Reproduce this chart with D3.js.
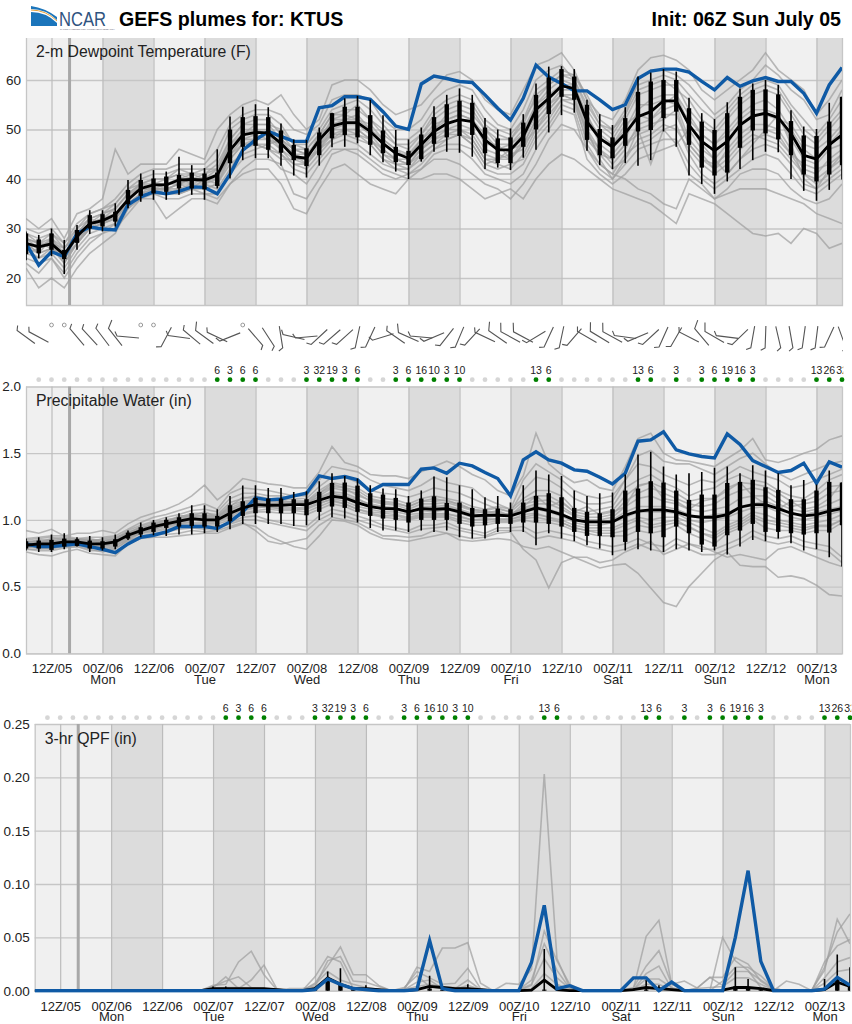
<!DOCTYPE html>
<html>
<head>
<meta charset="utf-8">
<script src="https://cdn.jsdelivr.net/npm/d3@7"></script>
<style>
    html, body { margin: 0; padding: 0; background: #fff; }
    svg { display: block; font-family: "Liberation Sans", Arial, sans-serif; }
    .tick text { fill: #222; }
</style>
</head>
<body>
<svg id="chart" width="852" height="1024"></svg>
<script>
const hourLabels = ["12Z/05","00Z/06","12Z/06","00Z/07","12Z/07","00Z/08","12Z/08","00Z/09","12Z/09","00Z/10","12Z/10","00Z/11","12Z/11","00Z/12","12Z/12","00Z/13"];
const dayLabels = ["","Mon","","Tue","","Wed","","Thu","","Fri","","Sat","","Sun","","Mon"];
const tickHours = [6,18,30,42,54,66,78,90,102,114,126,138,150,162,174,186];
const stepHours = 3;
const nowHour = 10.25;

// percent chance of measurable precip at each 3-hr step, 0 = grey dot
const precipChance = [0,0,0,0,0,0,0,0,0,0,0,0,0,0,0,6,3,6,6,0,0,0,3,32,19,3,6,0,0,3,6,16,10,3,10,0,0,0,0,0,13,6,0,0,0,0,0,0,13,6,0,3,0,3,6,19,16,3,0,0,0,0,13,26,32];

// null = calm
const barbDir = [306,298,null,null,320,317,323,322,275,null,null,208,278,310,306,295,248,null,139,147,171,283,265,227,229,228,192,205,253,305,294,275,247,218,203,223,295,305,299,298,239,205,192,221,300,301,299,278,247,227,204,210,297,320,300,277,226,190,182,167,170,188,187,205,160];
const barbSpeed = [5,5,0,0,5,5,5,10,5,0,0,5,5,5,10,5,5,0,5,5,5,5,5,5,5,5,5,5,5,5,10,5,5,5,5,5,5,10,10,10,5,5,5,5,5,10,10,5,5,5,5,5,5,10,10,5,5,5,5,5,5,5,5,5,5];

const dewTicks = [20,30,40,50,60];
const dewControl = [
    27,22.6,25.3,24.3,29,30.3,29.9,29.7,34.8,36.4,37.4,37,37.5,
    38.4,38.3,37,41,45.8,47.9,49.6,48.6,47.6,47.6,54.4,54.8,56.6,
    56.6,56.1,53.6,50.7,50,59.2,60.8,60.3,59.7,59.5,57,54.3,51.9,
    56.3,63,60.6,59.3,57.8,57.8,56,54,55,60.3,61.8,62.2,62.2,
    61.6,59.7,58,60.5,58.7,59.8,60.5,59.7,59.7,57.3,53.3,59,62.5];
const dewMean = [
    27,26.3,26.9,24.7,28.4,31,31.6,32.8,35.8,38.1,38.8,38.8,39.8,
    39.9,39.8,40.8,45.8,48.9,49.4,49.3,47.2,44.5,44.2,47.9,50.7,51.4,
    51.4,49.6,47.2,45.2,44.2,46.9,49.6,51.2,52,51.6,47.9,45.9,45.9,
    48.6,54,56.3,58.8,58.3,51.6,48.2,46.5,49.2,52.6,53.6,55.8,55.8,
    50.9,47.6,45.7,47.6,50.9,52.7,53.3,52.4,49.2,44.8,44,46.9,48.9];
const dewMax = [
    29.4,28.7,30,27.7,30.7,33.7,33.7,35.1,39.8,41.1,41.8,41.5,44.5,
    42.8,42.2,46,52.6,54.6,55.1,54.5,51.2,48,47.9,50.4,53.4,56.3,
    56.8,56,52.9,49.9,48,50.4,54.7,57,58.3,57,52.3,50,50.2,
    53.1,59.3,62.7,62.8,62.2,56,53.1,50.9,54.5,60.7,61.5,62.2,61.7,
    56.4,53.3,52.1,55.5,58.3,59.3,60,59,53.9,50.6,50.1,55.4,56.6];
const dewQ3 = [
    29,27.8,29,25.7,29.7,32.7,32.9,33.4,37.8,39.8,40.1,40.5,40.8,
    41.3,41.1,41.3,50,52.5,52.7,52.5,49.8,46.9,46.2,49.4,53.3,54.6,
    54.6,52.9,49.8,46.5,45.7,49,52.5,55.1,55.8,55.4,50.4,48.2,48.4,
    51.4,57,60.5,62.2,60.7,55,50.1,48.4,52.3,57.6,59.7,60,60,
    54.3,51.6,49.9,53.3,56.6,58,58.1,57.1,51.7,48.8,48.7,51.6,56.6];
const dewQ1 = [
    24.8,25,25.7,23.8,27.1,30,30.4,31.4,34.9,36.6,37.1,37.4,38.1,
    38.1,37.9,38.6,43.2,46.5,46.7,45.9,45.3,43.8,42.6,44.8,48.2,48.9,
    48.4,46.9,45.2,43.4,42.8,44,47.1,48.4,48.7,48.9,45.2,43.2,43.2,
    46.5,50,53.1,56.6,56,47.9,44.8,44.2,46.7,49.6,49.9,52.3,53.6,
    46.9,42.3,40.7,41.3,46.3,49.8,49.2,48,44.8,40.9,39.5,40.9,42.8];
const dewMin = [
    23.6,24,24.4,20.8,25.7,28.9,29.4,30.4,34.1,35.4,35.8,35.8,36.8,
    36.8,35.8,38.1,40.1,43.8,44.2,44.2,42.7,40.7,40.3,42.7,46.4,46.5,
    47.2,44.8,43.4,41.5,40,43.5,45.5,45.5,45.3,44.5,42,42.3,41.8,
    44.3,45.9,49.4,52.9,53.4,45.7,42.8,42,43.2,42.7,43.8,49.6,46.5,
    40.7,39,37,39.5,42,43.8,45.5,45.4,40,37.6,35.6,37.8,39.9];
const dewMembers = [
    [32,30,32,28,33,34,36,46,41,43,43,43,46,
     45,44,50,53,55,56,55,57,53,50,52,59,60,
     60,58,55,53,54,55,58,61,61.7,60,56,54,53,
     58,63,64,65.5,62,56,53,52,56,62,64.5,65,64,
     62,58,56,58,60,62,65.5,62,60,58,53,56,60],
    [22,18,20,18,22,25,27,29,34,36,36,32,34,
     36,36,35,39,41,42,42,39,34,33,38,42,43,
     41,39,38,37,40,40,41,41,40,38,36,37,38,
     36,40,43,45,44,42,40,38,37,36,35,33,31,
     37,36,35,33,31,29,28.5,29,27,30,29,26,27],
    [23,21,24,20,24,27,29,31,35,37,37,36,36,
     37,37,36,39,42,44,44,43,37,36,40,45,46,
     45,43,41,40,41,42,44,44,43,41,39,38,36,
     39,43,48,51,50,46,43,41,40,38,37,35,34,
     40,38,36,37,38,38,38,37,36,35,33,32,31],
    [30,29,30,27,31,33,34,36,39,41,42,42,43,
     43,43,46,51,53,54,54,53,50,49,51,56,57,
     57,56,52,50,50,52,56,58,59,58,54,51,50,
     54,60,62,63,60,55,51,50,53,60,62,62,61,
     59,56,53,55,58,60,63,61,58,56,52,53,58],
    [26,24,26,23,27,30,31,32,35,37,38,38,38,
     38,38,39,43,45,46,47,45,43,42,45,48,49,
     49,47,44,42,42,45,47,48,49,48,44,43,42,
     45,50,53,56,55,48,45,42,44,48,49,51,50,
     46,43,41,43,46,48,49,48,45,41,40,42,45],
    [28,27,28,26,29,32,33,34,37,39,40,40,41,
     41,41,43,48,51,52,52,49,46,46,49,53,54,
     54,52,49,47,46,49,52,54,55,54,50,48,48,
     51,57,59,61,60,54,50,48,52,57,58,59,59,
     54,51,49,52,55,57,58,57,53,49,47,50,53],
    [25,24,25,22,26,29,30,31,34,37,37,37,37,
     38,39,38,42,46,47,46,45,42,41,44,47,48,
     47,45,43,42,41,43,46,47,47,46,42,41,41,
     43,48,51,55,54,46,42,40,43,46,47,48,48,
     43,40,38,40,42,44,45,44,41,38,37,39,41],
    [27,26,27,24,28,31,32,33,36,38,39,39,39,
     39,40,40,45,48,49,48,46,44,44,46,50,51,
     51,49,46,44,43,46,49,50,51,50,46,45,44,
     47,52,55,58,58,50,46,43,46,51,52,54,55,
     48,45,42,46,49,51,51,50,46,42,41,44,46],
    [29,28,29,27,30,33,34,35,38,40,41,41,42,
     42,42,44,50,52,53,53,51,47,47,50,54,55,
     56,54,51,48,48,50,54,56,57,56,52,50,49,
     52,58,60,62,61,57,52,50,54,59,60,61,60,
     57,54,52,54,57,59,60,59,55,52,49,52,56],
    [24,23,24,21,25,28,29,30,33,36,37,38,37,
     38,37,37,41,44,45,45,42,41,39,43,46,46,
     46,44,42,41,40,42,45,46,46,44,41,40,39,
     41,46,50,54,53,44,41,39,41,44,45,46,47,
     41,39,36,38,41,42,42,41,38,36,35,36,39],
    [26,25,26,24,27,30,31,33,36,38,38,38,39,
     40,40,41,44,47,47,47,48,46,45,47,49,50,
     50,48,45,44,44,46,48,49,49,47,43,44,46,
     47,50,54,57,56,50,44,40,44,50,43,50,47,
     50,46,44,41,44,47,50,53,47,40,38,42,44],
    [28,27,27,26,29,31,33,34,37,39,39,40,41,
     40,41,42,47,50,50,50,48,45,45,48,52,52,
     53,50,48,46,45,48,51,52,53,52,47,47,47,
     50,55,58,60,59,53,47,45,48,54,56,57,57,
     53,49,47,50,53,55,56,54,50,46,44,47,50],
    [27,25,28,25,29,31,32,34,37,38,39,39,40,
     41,40,42,46,49,50,49,47,45,44,49,51,52,
     52,50,47,45,45,47,50,52,53,52,49,46,47,
     49,55,57,59,58,53,48,47,50,55,55,56,55,
     52,49,47,49,52,54,54,53,48,44,43,46,47],
    [26,27,26,25,28,30,32,32,36,39,38,39,40,
     39,39,40,46,48,48,49,46,43,43,47,50,50,
     50,48,46,44,43,46,48,50,50,49,45,44,45,
     46,51,54,57,57,49,45,44,47,49,50,53,53,
     47,44,43,45,48,50,50,49,45,43,42,43,45],
    [28,26,28,24,29,32,31,33,35,37,39,38,39,
     40,39,41,47,49,51,51,48,46,45,47,52,53,
     52,51,48,46,44,48,50,53,54,53,50,47,44,
     48,53,56,59,59,52,49,47,51,53,52,55,57,
     51,47,44,47,51,53,53,52,51,47,46,48,51],
    [25,26,27,23,27,31,31,32,36,38,38,37,38,
     39,38,39,44,47,48,48,47,45,43,46,49,49,
     48,47,44,43,42,44,46,48,49,47,43,42,43,
     44,49,52,56,56,47,43,41,45,47,48,50,51,
     45,41,39,41,44,46,47,46,43,39,38,40,42],
    [29,27,29,26,30,32,33,35,38,39,40,40,42,
     41,42,42,48,51,51,51,50,47,46,49,53,53,
     55,52,50,47,47,49,53,55,56,55,51,49,48,
     52,56,59,61,61,56,51,49,53,58,59,60,58,
     56,52,50,53,56,58,59,58,54,50,48,51,54],
    [27,25,26,24,27,30,31,32,35,37,38,38,39,
     38,40,39,45,47,47,46,44,44,43,46,48,50,
     49,48,45,43,43,45,47,49,50,48,44,44,44,
     47,52,55,57,56,49,46,44,47,50,51,52,54,
     47,44,42,44,47,49,48,47,44,41,39,41,43]
];

const pwTicks = [0,0.5,1,1.5,2];
const pwControl = [
    .82,.80,.80,.81,.82,.80,.78,.755,.82,.87,.885,.91,.95,
    .95,.95,.935,.985,1.06,1.165,1.15,1.157,1.18,1.2,1.33,1.31,1.325,
    1.30,1.215,1.265,1.265,1.265,1.38,1.39,1.35,1.425,1.405,1.355,1.31,1.18,
    1.45,1.51,1.45,1.425,1.375,1.365,1.32,1.27,1.35,1.59,1.6,1.66,1.525,
    1.495,1.475,1.465,1.645,1.565,1.445,1.40,1.355,1.37,1.425,1.275,1.435,1.395];
const pwMean = [
    .81,.82,.82,.835,.835,.82,.82,.835,.885,.92,.95,.97,.99,
    1.01,1.0,1.0,1.05,1.09,1.115,1.11,1.11,1.115,1.115,1.147,1.177,1.165,
    1.13,1.10,1.085,1.085,1.06,1.085,1.08,1.085,1.06,1.03,1.035,1.035,1.03,
    1.06,1.09,1.07,1.04,1.0,.985,.985,.985,1.035,1.065,1.075,1.075,1.06,
    1.03,1.02,1.02,1.04,1.095,1.115,1.115,1.085,1.05,1.03,1.04,1.065,1.085];
const pwMax = [
    .86,.87,.89,.9,.87,.88,.87,.89,.92,.98,1.0,1.02,1.05,
    1.11,1.11,1.08,1.18,1.257,1.26,1.24,1.24,1.21,1.215,1.29,1.35,1.33,
    1.31,1.26,1.235,1.23,1.18,1.22,1.325,1.32,1.26,1.23,1.17,1.18,1.13,
    1.26,1.37,1.34,1.33,1.22,1.18,1.20,1.205,1.34,1.49,1.51,1.40,1.34,
    1.35,1.36,1.39,1.40,1.35,1.41,1.37,1.35,1.26,1.30,1.265,1.37,1.28];
const pwQ3 = [
    .84,.845,.85,.86,.855,.845,.84,.855,.905,.945,.98,1.0,1.02,
    1.05,1.05,1.03,1.11,1.14,1.165,1.16,1.16,1.155,1.155,1.21,1.277,1.28,
    1.257,1.20,1.19,1.165,1.13,1.16,1.177,1.127,1.13,1.09,1.08,1.085,1.08,
    1.13,1.18,1.2,1.17,1.09,1.06,1.05,1.08,1.22,1.235,1.29,1.28,1.22,
    1.15,1.19,1.19,1.277,1.285,1.30,1.245,1.225,1.155,1.155,1.22,1.285,1.28];
const pwQ1 = [
    .785,.785,.775,.80,.805,.785,.785,.80,.86,.89,.91,.94,.95,
    .955,.95,.95,.99,1.03,1.05,1.05,1.05,1.05,1.035,1.06,1.10,1.09,
    1.06,1.03,1.01,1.0,.98,1.0,1.0,1.0,.97,.95,.96,.97,.97,
    .98,.98,.97,.95,.91,.88,.88,.87,.835,.91,.90,.87,.95,
    .90,.815,.80,.885,.92,.97,.91,.91,.90,.89,.90,.905,.96];
const pwMin = [
    .77,.76,.76,.78,.80,.76,.77,.78,.85,.87,.885,.88,.89,
    .89,.90,.91,.93,.97,.97,.97,.97,.955,.96,1.0,1.02,1.01,
    .98,.94,.92,.92,.91,.92,.91,.92,.87,.86,.86,.91,.91,
    .91,.81,.90,.86,.84,.81,.785,.735,.77,.78,.77,.76,.78,
    .77,.76,.77,.74,.80,.85,.84,.86,.825,.77,.78,.72,.65];
const pwMembers = [
    [.92,.90,.93,.88,.90,.90,.92,.90,.97,1.02,1.05,1.08,1.12,
     1.18,1.26,1.15,1.22,1.31,1.29,1.27,1.26,1.24,1.24,1.36,1.55,1.43,
     1.40,1.34,1.33,1.33,1.31,1.36,1.40,1.44,1.40,1.34,1.30,1.22,1.18,
     1.33,1.65,1.42,1.34,1.28,1.30,1.24,1.22,1.40,1.61,1.65,1.50,1.45,
     1.44,1.42,1.40,1.46,1.52,1.61,1.45,1.43,1.46,1.50,1.53,1.60,1.63],
    [.76,.74,.73,.76,.78,.75,.74,.73,.82,.86,.87,.87,.88,
     .89,.90,.90,.94,.97,.95,.88,.84,.80,.78,.88,1.0,.99,
     .96,.90,.86,.85,.84,.86,.88,.90,.85,.84,.85,.86,.85,
     .80,.78,.80,.76,.72,.68,.64,.66,.67,.60,.49,.38,.35,
     .50,.60,.70,.76,.66,.65,.65,.57,.58,.56,.51,.44,.43],
    [.78,.77,.77,.79,.80,.78,.76,.78,.85,.87,.89,.89,.90,
     .92,.91,.92,.95,.98,.92,.84,.82,.84,.86,.96,1.02,1.0,
     .98,.93,.88,.88,.87,.88,.92,.90,.88,.86,.87,.90,.91,
     .78,.70,.49,.68,.72,.72,.68,.70,.76,.80,.84,.74,.78,
     .82,.80,.76,.72,.74,.72,.70,.78,.80,.76,.72,.68,.65],
    [.86,.87,.88,.88,.86,.87,.87,.88,.93,.98,1.02,1.04,1.07,
     1.10,1.12,1.08,1.20,1.24,1.23,1.22,1.20,1.18,1.18,1.30,1.40,1.38,
     1.36,1.30,1.26,1.24,1.22,1.26,1.32,1.28,1.26,1.24,1.16,1.12,1.08,
     1.30,1.42,1.36,1.30,1.22,1.18,1.16,1.18,1.30,1.48,1.52,1.44,1.42,
     1.42,1.38,1.34,1.40,1.46,1.50,1.42,1.35,1.30,1.34,1.38,1.42,1.44],
    [.83,.85,.85,.86,.86,.85,.85,.86,.90,.95,.98,1.00,1.02,
     1.05,1.05,1.04,1.13,1.16,1.18,1.16,1.16,1.15,1.14,1.22,1.28,1.26,
     1.24,1.18,1.16,1.15,1.12,1.16,1.18,1.16,1.14,1.10,1.08,1.10,1.08,
     1.16,1.22,1.22,1.18,1.08,1.06,1.08,1.10,1.24,1.30,1.34,1.28,1.24,
     1.18,1.22,1.24,1.30,1.34,1.30,1.28,1.22,1.18,1.16,1.22,1.30,1.34],
    [.80,.79,.78,.81,.81,.79,.78,.80,.86,.90,.92,.94,.96,
     .97,.97,.97,1.00,1.04,1.06,1.06,1.05,1.05,1.04,1.08,1.12,1.10,
     1.06,1.04,1.02,1.01,1.00,1.02,1.02,1.02,.98,.96,.96,.98,.98,
     1.00,.98,.98,.96,.92,.90,.88,.88,.88,.92,.90,.92,.96,
     .90,.86,.82,.90,.94,1.00,.94,.92,.92,.90,.92,.92,.98],
    [.82,.82,.83,.84,.84,.82,.82,.83,.88,.92,.95,.97,.99,
     1.01,1.00,1.00,1.06,1.10,1.12,1.12,1.12,1.12,1.10,1.16,1.20,1.18,
     1.15,1.12,1.10,1.09,1.06,1.09,1.08,1.10,1.07,1.04,1.03,1.04,1.05,
     1.08,1.10,1.08,1.05,1.00,.98,.98,1.00,1.06,1.10,1.10,1.10,1.08,
     1.04,1.02,1.04,1.05,1.10,1.12,1.14,1.10,1.05,1.04,1.06,1.08,1.10],
    [.80,.83,.84,.83,.83,.83,.80,.82,.87,.91,.94,.95,.97,
     .99,1.03,.99,1.03,1.07,1.09,1.10,1.08,1.08,1.08,1.12,1.16,1.14,
     1.10,1.08,1.06,1.06,1.04,1.05,1.04,1.05,1.02,1.00,1.00,1.01,1.00,
     1.04,1.05,1.02,1.00,.96,.94,.94,.94,.98,1.02,1.00,1.02,1.02,
     .98,.94,.90,.96,1.00,1.06,1.04,1.00,.98,.96,.98,1.00,1.04],
    [.84,.83,.86,.87,.85,.86,.84,.86,.92,.96,.99,1.02,1.04,
     1.07,1.08,1.06,1.16,1.20,1.20,1.18,1.18,1.16,1.16,1.25,1.32,1.32,
     1.28,1.22,1.20,1.19,1.17,1.20,1.24,1.22,1.20,1.16,1.12,1.08,1.06,
     1.22,1.32,1.30,1.24,1.16,1.12,1.12,1.14,1.30,1.42,1.40,1.34,1.30,
     1.26,1.30,1.28,1.34,1.40,1.36,1.33,1.30,1.24,1.26,1.30,1.34,1.38],
    [.79,.80,.80,.82,.82,.80,.79,.81,.85,.90,.91,.93,.94,
     .96,.96,.95,.98,1.02,1.03,1.00,.98,.96,.95,1.03,1.08,1.06,
     1.03,1.00,.96,.94,.92,.96,.96,.98,.94,.92,.90,.94,.94,
     .95,.90,.92,.90,.88,.84,.82,.80,.82,.86,.82,.80,.86,
     .82,.78,.78,.82,.86,.92,.88,.86,.88,.84,.82,.80,.72],
    [.82,.81,.81,.85,.83,.84,.83,.84,.89,.93,.97,.99,1.01,
     1.03,1.02,1.02,1.09,1.13,1.14,1.14,1.14,1.13,1.12,1.18,1.24,1.22,
     1.20,1.14,1.12,1.11,1.08,1.12,1.12,1.13,1.10,1.07,1.05,1.07,1.03,
     1.12,1.14,1.15,1.10,1.04,1.02,1.02,1.04,1.14,1.20,1.24,1.20,1.16,
     1.12,1.10,1.12,1.18,1.22,1.24,1.22,1.16,1.10,1.12,1.14,1.20,1.22],
    [.85,.86,.87,.85,.84,.83,.86,.87,.90,.94,.96,.98,1.03,
     1.03,1.06,1.02,1.10,1.17,1.16,1.15,1.13,1.14,1.12,1.20,1.27,1.24,
     1.22,1.16,1.14,1.13,1.10,1.14,1.16,1.14,1.12,1.08,1.06,1.06,1.02,
     1.10,1.18,1.10,1.14,1.06,1.10,1.04,1.06,1.10,1.26,1.28,1.16,1.14,
     1.08,1.14,1.16,1.22,1.28,1.18,1.12,1.08,1.14,1.08,1.10,1.16,1.28],
    [.83,.84,.83,.84,.85,.84,.83,.85,.89,.92,.96,.98,1.0,
     1.02,1.01,1.01,1.07,1.12,1.13,1.13,1.13,1.12,1.13,1.17,1.21,1.2,
     1.16,1.11,1.09,1.08,1.05,1.10,1.10,1.11,1.08,1.05,1.06,1.05,1.04,
     1.09,1.12,1.12,1.08,1.03,1.0,1.0,1.02,1.10,1.16,1.18,1.14,1.12,
     1.08,1.06,1.08,1.10,1.16,1.18,1.18,1.12,1.08,1.06,1.08,1.12,1.16],
    [.80,.81,.81,.82,.82,.81,.80,.83,.87,.91,.93,.96,.98,
     1.0,.99,.99,1.04,1.08,1.10,1.09,1.09,1.09,1.09,1.13,1.15,1.12,
     1.08,1.06,1.05,1.04,1.02,1.04,1.05,1.04,1.03,1.0,1.01,1.0,1.01,
     1.02,1.04,1.02,.98,.94,.92,.92,.92,.96,1.0,.96,.98,1.0,
     .94,.90,.88,.94,.98,1.04,1.0,.98,.96,.94,.96,.96,1.0],
    [.84,.84,.84,.85,.84,.84,.84,.85,.91,.94,.97,1.0,1.01,
     1.04,1.03,1.03,1.11,1.14,1.15,1.15,1.15,1.13,1.14,1.2,1.25,1.24,
     1.18,1.15,1.13,1.12,1.1,1.14,1.14,1.15,1.11,1.08,1.07,1.09,1.06,
     1.14,1.18,1.18,1.13,1.06,1.04,1.05,1.07,1.18,1.25,1.28,1.24,1.2,
     1.14,1.16,1.16,1.24,1.28,1.27,1.25,1.2,1.14,1.14,1.18,1.25,1.26],
    [.81,.8,.79,.83,.83,.8,.81,.82,.87,.9,.93,.96,.97,
     .98,.98,.98,1.02,1.05,1.07,1.08,1.07,1.07,1.06,1.1,1.14,1.12,
     1.08,1.05,1.03,1.03,1.01,1.03,1.03,1.03,1.0,.98,.98,.99,.99,
     1.01,1.02,1.0,.98,.94,.92,.9,.9,.92,.96,.94,.96,.98,
     .95,.9,.86,.92,.96,1.02,.98,.96,.94,.92,.95,.95,1.0],
    [.83,.83,.85,.83,.85,.85,.83,.84,.9,.93,.95,.98,1.0,
     1.02,1.04,1.01,1.08,1.11,1.13,1.11,1.11,1.11,1.11,1.15,1.18,1.16,
     1.12,1.1,1.08,1.07,1.07,1.07,1.06,1.08,1.05,1.02,1.02,1.03,1.04,
     1.06,1.08,1.06,1.03,.98,.96,.96,.98,1.02,1.06,1.06,1.06,1.05,
     1.0,.98,1.0,1.02,1.06,1.09,1.1,1.06,1.02,1.0,1.02,1.04,1.07],
    [.78,.78,.79,.8,.8,.77,.77,.79,.84,.88,.9,.91,.93,
     .94,.93,.94,.97,1.0,1.0,.98,.96,.94,.92,1.0,1.05,1.03,
     1.0,.97,.94,.92,.9,.93,.94,.95,.92,.9,.88,.92,.92,
     .92,.86,.88,.86,.84,.8,.78,.76,.78,.82,.78,.76,.82,
     .78,.74,.74,.78,.82,.88,.84,.82,.84,.8,.78,.76,.68]
];

const qpfTicks = [0,0.05,0.1,0.15,0.2,0.25];
const qpfControl = [
    0,0,0,0,0,0,0,0,0,0,0,0,0,
    0,0,0,0,0,0,0,0,0,.001,.011,.006,.002,
    .001,0,0,0,.001,.047,.002,0,0,0,0,0,0,
    .0266,.08,.002,.0047,0,0,0,0,.012,.012,0,.008,0,
    0,0,0,.05,.1125,.0275,0,0,0,0,.0015,.0125,.005];
const qpfMean = [
    0,0,0,0,0,0,0,0,0,0,0,0,0,
    0,.002,.002,.002,.002,.002,.001,0,0,.002,.012,.006,.002,
    .002,.001,0,0,.001,.004,.003,.002,.002,.001,0,0,0,
    .0005,.01,.001,0,0,0,0,0,.001,.003,.002,.001,0,
    0,0,.0005,.003,.003,.002,0,0,0,0,.001,.008,.004];
const qpfMax = [
    0,0,0,0,0,0,0,0,0,0,0,0,0,
    0,.004,.004,.002,.002,.002,0,0,0,.003,.018,.021,.003,
    .005,0,0,0,.001,.014,.003,.002,.006,0,0,0,0,
    .001,.039,.001,0,0,0,0,0,.002,.01,.005,.001,0,
    0,0,.001,.022,.011,.002,0,0,0,0,.011,.034,.022];
const qpfQ3 = [
    0,0,0,0,0,0,0,0,0,0,0,0,0,
    0,.001,.001,.001,.001,.001,0,0,0,.001,.012,.006,.001,
    .001,0,0,0,0,.002,.001,.001,.001,0,0,0,0,
    0,.001,0,0,0,0,0,0,0,.001,.001,0,0,
    0,0,0,.004,.003,.001,0,0,0,0,0,.012,.004];
const qpfQ1 = [
    0,0,0,0,0,0,0,0,0,0,0,0,0,
    0,0,0,0,0,0,0,0,0,0,0,0,0,
    0,0,0,0,0,0,0,0,0,0,0,0,0,
    0,0,0,0,0,0,0,0,0,0,0,0,0,
    0,0,0,0,0,0,0,0,0,0,0,0,0];
const qpfMembers = [
    [0,0,0,0,0,0,0,0,0,0,0,0,0,
     0,.005,.006,.027,.037,.015,.001,0,0,.013,.032,.027,.002,
     0,0,0,.001,.022,.018,.04,.04,.045,.007,0,.007,.006,
     .02,.203,.03,.003,0,0,0,0,.002,.051,.066,.006,0,
     0,0,.05,.028,.019,.003,0,.009,.006,0,.022,.055,.072],
    [0,0,0,0,0,0,0,0,0,0,0,0,0,
     0,.003,.013,.002,.01,.024,.002,0,0,.007,.023,.041,.015,
     .015,.005,0,.002,.018,.012,.006,.007,.021,.002,0,0,0,
     .005,.056,.028,.006,0,0,0,0,.003,.023,.0375,.006,.009,
     .0025,.0125,.0125,.031,.025,.009,.001,0,0,.001,.019,.067,.044],
    [0,0,0,0,0,0,0,0,0,0,0,0,0,
     0,.004,.009,.013,.003,.002,0,.002,.002,.004,.028,.032,.009,
     .008,.004,0,.003,.014,.004,.002,.002,.01,.001,0,0,.001,
     .01,.044,.019,.002,0,0,0,0,.001,.016,.023,.002,0,
     0,0,.009,.022,.022,.014,.002,0,0,0,.027,.042,.048],
    [0,0,0,0,0,0,0,0,0,0,0,0,0,
     0,.002,.003,.003,.002,.002,0,0,0,.006,.018,.01,.006,
     .003,.001,0,.001,.008,.01,.002,.001,.005,.001,0,0,.001,
     .006,.03,.012,.002,0,0,0,0,.001,.011,.011,.003,0,
     .0025,.0125,.005,.018,.018,.01,.002,0,0,0,.012,.027,.031],
    [0,0,0,0,0,0,0,0,0,0,0,0,0,
     0,.002,.002,.001,.002,.001,0,0,0,.003,.012,.006,.003,
     .002,.001,0,.001,.004,.006,.004,.003,.003,0,0,0,0,
     .002,.016,.006,.001,0,0,0,0,.001,.006,.006,.001,0,
     .002,.003,.004,.012,.012,.006,.001,0,0,0,.007,.018,.02]
];

const svg = d3.select("#chart");
const x1 = d3.scaleLinear().domain([0, 192]).range([26, 842]);
const x3 = d3.scaleLinear().domain([0, 192]).range([34.7, 850]);

function drawPlume(cfg) {
    const { x, y, top, bottom, id } = cfg;
    const g = svg.append("g");
    const left = x.range()[0], right = x.range()[1];

    g.append("defs").append("clipPath").attr("id", id).append("rect")
        .attr("x", left).attr("y", top).attr("width", right - left).attr("height", bottom - top + 2);

    g.append("rect").attr("x", left).attr("y", top).attr("width", right - left)
        .attr("height", bottom - top).attr("fill", "#f0f0f0");

    // 00Z-12Z night bands
    const nightStarts = tickHours.filter((h, i) => i % 2 === 1);
    g.selectAll(".band").data(nightStarts).enter().append("rect")
        .attr("x", d => x(d))
        .attr("y", top)
        .attr("width", d => x(Math.min(d + 12, 192)) - x(d))
        .attr("height", bottom - top)
        .attr("fill", "#dcdcdc");

    const yGrid = g.append("g").attr("transform", `translate(${left},0)`)
        .call(d3.axisLeft(y).tickValues(cfg.ticks).tickSize(-(right - left)).tickPadding(5).tickFormat(cfg.format));
    yGrid.select(".domain").remove();
    yGrid.selectAll("line").attr("stroke", "#c6c6c6").attr("stroke-width", 1.3);
    yGrid.selectAll("text").style("font-size", "13.5px");

    const xAxis = g.append("g").attr("transform", `translate(0,${bottom})`)
        .call(d3.axisBottom(x).tickValues(tickHours).tickSize(-(bottom - top)).tickPadding(10.8)
            .tickFormat((d, i) => cfg.labels ? hourLabels[i] : ""));
    xAxis.select(".domain").attr("stroke", "#c6c6c6").attr("stroke-width", 1.3);
    xAxis.selectAll("line").attr("stroke", "#bcbcbc").attr("stroke-width", 1.2);
    xAxis.selectAll("text").style("font-size", "13px");
    if (cfg.labels) {
        // day name as a second line of the same label
        xAxis.selectAll(".tick text").append("tspan")
            .attr("x", 0)
            .attr("dy", 10.5)
            .text((d, i) => dayLabels[i]);
    }

    g.append("line").attr("x1", x(nowHour)).attr("x2", x(nowHour)).attr("y1", top).attr("y2", bottom)
        .attr("stroke", "#a8a8a8").attr("stroke-width", 3);

    g.append("text").attr("x", left + 10).attr("y", cfg.titleY)
        .style("font-size", "15.8px").attr("fill", "#222").text(cfg.title);

    const plot = g.append("g").attr("clip-path", `url(#${id})`);
    const line = d3.line().x((d, i) => x(i * stepHours)).y(d => y(d));

    plot.selectAll(".member").data(cfg.members).enter().append("path")
        .attr("d", line).attr("fill", "none")
        .attr("stroke", "#a0a0a0").attr("stroke-opacity", 0.72).attr("stroke-width", 1.6);

    const controlPath = () => plot.append("path").datum(cfg.control).attr("d", line).attr("fill", "none")
        .attr("stroke", "#0f5aa5").attr("stroke-width", 3.4);

    if (!cfg.controlOnTop) controlPath();

    cfg.mean.forEach((m, i) => {
        const px = x(i * stepHours);
        if (cfg.max[i] > cfg.min[i]) {
            plot.append("line").attr("x1", px).attr("x2", px)
                .attr("y1", y(cfg.max[i])).attr("y2", y(cfg.min[i]))
                .attr("stroke", "#000").attr("stroke-width", 1.6);
        }
        if (cfg.q3[i] > cfg.q1[i]) {
            plot.append("rect").attr("x", px - 2.2).attr("width", 4.4)
                .attr("y", y(cfg.q3[i])).attr("height", y(cfg.q1[i]) - y(cfg.q3[i]))
                .attr("fill", "#000");
        }
    });

    plot.append("path").datum(cfg.mean).attr("d", line).attr("fill", "none")
        .attr("stroke", "#000").attr("stroke-width", 2.8);

    if (cfg.controlOnTop) controlPath();
}

function drawPrecipDots(x, dotY, labelY, id) {
    const g = svg.append("g");
    const dots = precipChance.map((p, i) => ({ p, i })).slice(1);
    g.append("defs").append("clipPath").attr("id", id).append("rect")
        .attr("x", 0).attr("y", labelY - 12).attr("width", x.range()[1] + 1.2).attr("height", 16);
    g.selectAll("circle").data(dots).enter().append("circle")
        .attr("cx", d => x(d.i * stepHours))
        .attr("cy", dotY)
        .attr("r", 2.4)
        .attr("fill", d => d.p > 0 ? "#008000" : "#d6d6d6");
    g.append("g").attr("clip-path", `url(#${id})`)
        .selectAll("text").data(dots.filter(d => d.p > 0)).enter().append("text")
        .attr("x", d => x(d.i * stepHours))
        .attr("y", labelY)
        .attr("text-anchor", "middle")
        .attr("fill", "#222")
        .style("font-size", "10.5px")
        .text(d => d.p);
}

function drawBarbs() {
    const midY = 337, calmY = 325, half = 11;
    const barbs = svg.append("g");
    barbs.append("defs").append("clipPath").attr("id", "barb-clip").append("rect")
        .attr("x", 0).attr("y", 310).attr("width", 843).attr("height", 50);
    const g = barbs.append("g").attr("clip-path", "url(#barb-clip)");
    barbDir.forEach((dir, i) => {
        const px = x1(i * stepHours);
        if (dir === null) {
            g.append("circle").attr("cx", px).attr("cy", calmY).attr("r", 1.9)
                .attr("fill", "none").attr("stroke", "#999").attr("stroke-width", 1);
            return;
        }
        const a = dir * Math.PI / 180, b = (dir + 60) * Math.PI / 180;
        const fx = px + half * Math.sin(a), fy = midY - half * Math.cos(a);
        const len = barbSpeed[i] >= 10 ? 9 : 5;
        g.append("path")
            .attr("d", `M${px - half * Math.sin(a)},${midY + half * Math.cos(a)}L${fx},${fy}L${fx + len * Math.sin(b)},${fy - len * Math.cos(b)}`)
            .attr("fill", "none").attr("stroke", "#555").attr("stroke-width", 1.1);
    });
}

function drawHeader() {
    const logo = svg.append("g");
    logo.append("path").attr("d", "M31,12 Q46,12 57,23 L57,26 L31,26 Z").attr("fill", "#1b75bb");
    logo.append("path").attr("d", "M31,10 Q46,10 57,21").attr("fill", "none").attr("stroke", "#e8a33d").attr("stroke-width", 1);
    logo.append("path").attr("d", "M31,6 L31,9 Q46,9 57,20 L57,17 Q45,8 31,6 Z").attr("fill", "#1b75bb");
    logo.append("text").attr("x", 59).attr("y", 26).attr("fill", "#2f5380")
        .attr("textLength", 47).attr("lengthAdjust", "spacingAndGlyphs")
        .style("font-size", "20px").text("NCAR");
    logo.append("text").attr("x", 60).attr("y", 30).attr("fill", "#667")
        .style("font-size", "2.2px").text("NATIONAL CENTER FOR ATMOSPHERIC RESEARCH");

    svg.append("text").attr("x", 119).attr("y", 26).attr("fill", "#000")
        .style("font-size", "19.6px").style("font-weight", "bold").text("GEFS plumes for: KTUS");
    svg.append("text").attr("x", 841).attr("y", 26).attr("fill", "#000").attr("text-anchor", "end")
        .style("font-size", "19.6px").style("font-weight", "bold").text("Init: 06Z Sun July 05");
}

drawHeader();
drawPlume({
    id: "clip-dew", x: x1, top: 38, bottom: 305, labels: false,
    y: d3.scaleLinear().domain([14.55, 68.48]).range([305, 38]),
    ticks: dewTicks, format: d3.format("d"), title: "2-m Dewpoint Temperature (F)", titleY: 57,
    members: dewMembers, control: dewControl, mean: dewMean, max: dewMax, q3: dewQ3, q1: dewQ1, min: dewMin
});
drawBarbs();
drawPrecipDots(x1, 379.7, 374.3, "dots-pw");
drawPlume({
    id: "clip-pw", x: x1, top: 386.5, bottom: 653.3, labels: true,
    y: d3.scaleLinear().domain([0, 2]).range([653.3, 386.5]),
    ticks: pwTicks, format: d3.format(".1f"), title: "Precipitable Water (in)", titleY: 406,
    members: pwMembers, control: pwControl, mean: pwMean, max: pwMax, q3: pwQ3, q1: pwQ1, min: pwMin
});
drawPrecipDots(x3, 717.7, 712, "dots-qpf");
drawPlume({
    id: "clip-qpf", x: x3, top: 724, bottom: 990.7, labels: true, controlOnTop: true,
    y: d3.scaleLinear().domain([0, 0.25]).range([990.7, 724]),
    ticks: qpfTicks, format: d3.format(".2f"), title: "3-hr QPF (in)", titleY: 744,
    members: qpfMembers, control: qpfControl, mean: qpfMean, max: qpfMax, q3: qpfQ3, q1: qpfQ1, min: qpfQ1
});
</script>
</body>
</html>
